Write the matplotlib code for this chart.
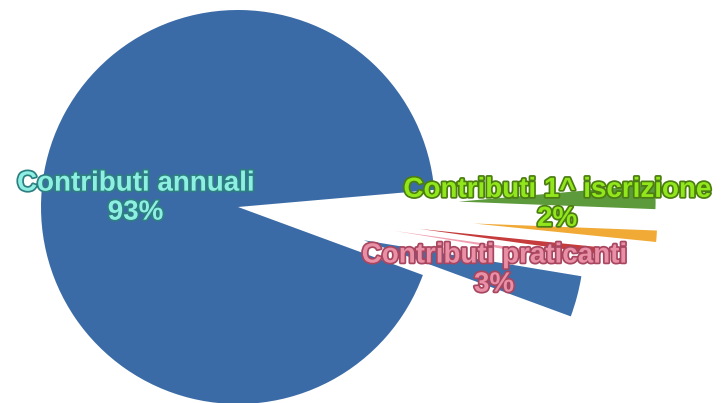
import matplotlib
matplotlib.use("Agg")
import matplotlib.pyplot as plt
import matplotlib.patheffects as pe

# Data (percent shares)
categories = ["Contributi annuali", "Contributi praticanti", "Altro A", "Altro B",
              "Altro C", "Contributi 1^ iscrizione"]
values = [93, 3, 0.4, 0.6, 1.0, 2.0]
label_texts = {"Contributi annuali": "Contributi annuali\n93%",
               "Contributi praticanti": "Contributi praticanti\n3%",
               "Contributi 1^ iscrizione": "Contributi 1^ iscrizione\n2%"}

colors = ["#3b6ba6", "#3d6fab", "#ef9fb0", "#c63b3b", "#f0aa35", "#5c9a3c"]
explode = [0.0, 0.66, 0.80, 0.93, 1.20, 1.12]
radii = [1.0, 1.12, 0.77, 0.91, 0.93, 1.0]

fig = plt.figure(figsize=(7.21, 4.03), dpi=100)
ax = fig.add_axes([0, 0, 1, 1])
wedges, _ = ax.pie(values, colors=colors, explode=explode, startangle=5.0,
                   counterclock=True, radius=1.0)
for w, r in zip(wedges, radii):
    w.set_radius(r)
    w.set_linewidth(0)

ax.set_xlim(-238 / 197, (721 - 238) / 197)
ax.set_ylim(-196 / 197, 207 / 197)
ax.set_aspect("equal", adjustable="datalim")
ax.axis("off")

font = dict(family=["Liberation Sans", "DejaVu Sans"], fontweight="bold", fontsize=20,
            ha="center", va="center", linespacing=1.15)

ax.text(-0.52, 0.045, label_texts["Contributi annuali"], color="#8ef0e2",
        path_effects=[pe.withStroke(linewidth=2.5, foreground="#2d7f82")], **font)
ax.text(1.62, 0.013, label_texts["Contributi 1^ iscrizione"], color="#92e61c",
        path_effects=[pe.withStroke(linewidth=2.5, foreground="#4b7d12")], **font)
ax.text(1.30, -0.32, label_texts["Contributi praticanti"], color="#e98fa6",
        path_effects=[pe.withStroke(linewidth=2.5, foreground="#a84660")], **font)

fig.savefig("out.png", dpi=100)
